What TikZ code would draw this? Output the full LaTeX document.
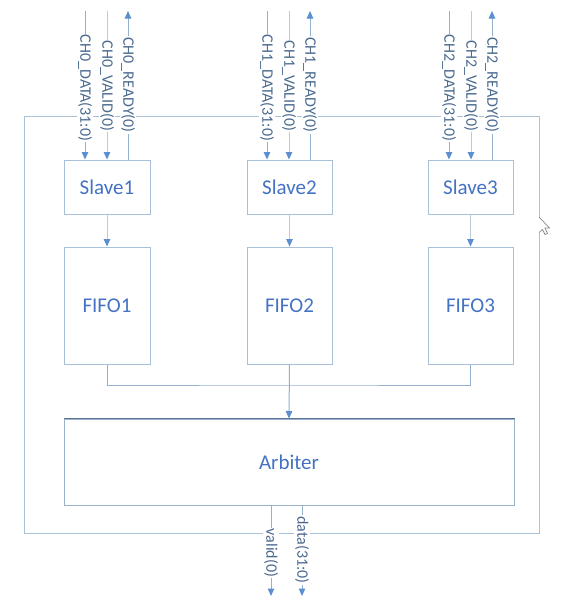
\documentclass[tikz,border=0pt]{standalone}
\usepackage{fontspec}
\setmainfont{Carlito}
\usetikzlibrary{arrows.meta}
\definecolor{boxline}{HTML}{A8C0DA}
\definecolor{txtblue}{HTML}{4472C4}
\definecolor{wire}{HTML}{94B1CB}
\definecolor{wirelight}{HTML}{B9CCDD}
\definecolor{arrfill}{HTML}{5B8FD0}
\definecolor{lbltxt}{HTML}{4A6A90}
\definecolor{frame}{HTML}{A9C2D8}
\definecolor{arbtop}{HTML}{5E7591}
\definecolor{cursorgray}{HTML}{8A8A8A}
\begin{document}
\begin{tikzpicture}[x=1pt,y=-1pt,
  blk/.style={draw=boxline,line width=1pt,fill=white,text=txtblue,inner sep=0pt,
    font=\fontsize{21}{24}\selectfont},
  wireln/.style={draw=wire,line width=1pt},
  arr/.style={wireln,-{Triangle[width=6.5pt,length=7.5pt,fill=arrfill,color=arrfill]}},
  lbl/.style={fill=white,text=lbltxt,rotate=-90,inner sep=1.2pt,
    font=\fontsize{16}{18}\selectfont}]
\useasboundingbox (0,0) rectangle (564,608);

% outer frame
\draw[draw=frame,line width=1pt] (24,116) rectangle (539,533);
% cursor mark on the right edge
\fill[white] (537.5,217) rectangle (540.5,233);
\draw[cursorgray,line width=0.7pt,fill=white] (539,217) -- (549.5,228) -- (545,228) -- (547.5,233.5) -- (545,234.5) -- (542.5,229.5) -- (539,232.5);
\draw[draw=frame,line width=1pt] (539,232.5) -- (539,240);

% blocks
\node[blk,minimum width=86pt,minimum height=54pt] (s1) at (107,187) {Slave1};
\node[blk,minimum width=85pt,minimum height=54pt] (s2) at (289.5,187) {Slave2};
\node[blk,minimum width=85pt,minimum height=54pt] (s3) at (470.5,187) {Slave3};
\node[blk,minimum width=86pt,minimum height=117pt] (f1) at (107,305.5) {FIFO1};
\node[blk,minimum width=85pt,minimum height=117pt] (f2) at (289.5,305.5) {FIFO2};
\node[blk,minimum width=85pt,minimum height=117pt] (f3) at (470.5,305.5) {FIFO3};
\node[blk,draw=boxline!80!arbtop,minimum width=450pt,minimum height=86pt] (arb) at (289,462) {Arbiter};
\draw[arbtop,line width=1pt] (arb.north west) -- (arb.north east);

% top channel wires
\coordinate (c0d) at (85,11);  \coordinate (c0v) at (107,11);  \coordinate (c0r) at (128,11);
\coordinate (c1d) at (267,11); \coordinate (c1v) at (289,11);  \coordinate (c1r) at (310,11);
\coordinate (c2d) at (449,11); \coordinate (c2v) at (471,11);  \coordinate (c2r) at (492,11);

\draw[arr] (c0d) -- (c0d |- s1.north);
\draw[arr,draw=wirelight] (c0v) -- (c0v |- s1.north);
\draw[arr] (c0r |- s1.north) -- (c0r);
\draw[arr] (c1d) -- (c1d |- s2.north);
\draw[arr,draw=wirelight] (c1v) -- (c1v |- s2.north);
\draw[arr] (c1r |- s2.north) -- (c1r);
\draw[arr] (c2d) -- (c2d |- s3.north);
\draw[arr,draw=wirelight] (c2v) -- (c2v |- s3.north);
\draw[arr] (c2r |- s3.north) -- (c2r);

\node[lbl] (l0d) at (85,88) {CH0\_DATA(31:0)};
\node[lbl] (l0v) at (107,86) {CH0\_VALID(0)};
\node[lbl] (l0r) at (128,85) {CH0\_READY(0)};
\node[lbl] (l1d) at (267,88) {CH1\_DATA(31:0)};
\node[lbl] (l1v) at (289,86) {CH1\_VALID(0)};
\node[lbl] (l1r) at (310,85) {CH1\_READY(0)};
\node[lbl] (l2d) at (449,88) {CH2\_DATA(31:0)};
\node[lbl] (l2v) at (471,86) {CH2\_VALID(0)};
\node[lbl] (l2r) at (492,85) {CH2\_READY(0)};

% slave -> fifo
\draw[arr,draw=wirelight] (s1.south) -- (f1.north);
\draw[arr,draw=wirelight] (s2.south) -- (f2.north);
\draw[arr,draw=wirelight] (s3.south) -- (f3.north);

% fifo merge -> arbiter
\coordinate (mrg) at (289,385);
\draw[wireln] (f1.south) |- (mrg) -| (f3.south);
\draw[arr] (f2.south) -- (arb.north);

% outputs
\coordinate (ov) at (271,596);
\coordinate (od) at (302,596);
\draw[arr] (arb.south -| ov) -- (ov);
\draw[arr] (arb.south -| od) -- (od);
\node[lbl] (lov) at (271,553) {valid(0)};
\node[lbl] (lod) at (302,550) {data(31:0)};
\end{tikzpicture}
\end{document}
